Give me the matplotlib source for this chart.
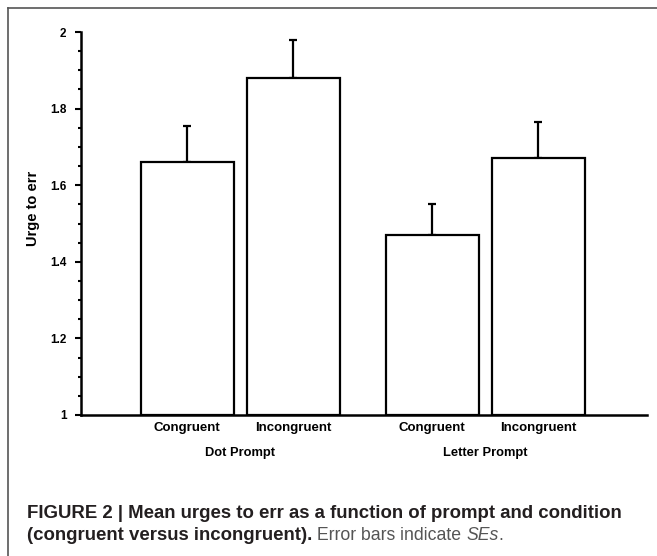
import numpy as np
import matplotlib.pyplot as plt
from matplotlib.lines import Line2D
from matplotlib.ticker import MultipleLocator

# Data
groups = ['Dot Prompt', 'Letter Prompt']
conditions = ['Congruent', 'Incongruent', 'Congruent', 'Incongruent']
means = [1.66, 1.88, 1.47, 1.67]
ses = [0.095, 0.10, 0.08, 0.095]

plt.rcParams['font.family'] = ['Liberation Sans', 'DejaVu Sans']

fig = plt.figure(figsize=(6.57, 5.56), dpi=100)
ax = fig.add_axes([0.1233, 0.2536, 0.862, 0.6888])

# bar positions (two pairs with a wider gap between groups)
pos = np.array([0, 1, 2.31, 3.31])
ax.bar(pos, [m - 1 for m in means], bottom=1, width=0.877,
       color='white', edgecolor='black', linewidth=1.6, zorder=2)
ax.errorbar(pos, means, yerr=[np.zeros(len(ses)), ses], fmt='none',
            ecolor='black', elinewidth=1.6, capsize=3, capthick=1.6, zorder=1)

ax.set_xlim(-1.0, 4.34)
ax.set_ylim(1, 2)
ax.set_xticks(pos)
ax.set_xticklabels(conditions, fontweight='bold', fontsize=9.5)
ax.tick_params(axis='x', length=0, pad=5)

ax.yaxis.set_minor_locator(MultipleLocator(0.05))
ax.set_yticks([1, 1.2, 1.4, 1.6, 1.8, 2])
ax.set_yticklabels(['1', '1.2', '1.4', '1.6', '1.8', '2'], fontweight='bold', fontsize=8.5)
ax.tick_params(axis='y', which='major', length=4.5, width=1.5, pad=6)
ax.tick_params(axis='y', which='minor', length=2.5, width=1.5)

for s in ['top', 'right']:
    ax.spines[s].set_visible(False)
for s in ['left', 'bottom']:
    ax.spines[s].set_linewidth(1.8)

ax.set_ylabel('Urge to err', fontweight='bold', fontsize=10.5)
ax.yaxis.set_label_coords(-0.072, 0.54)

# group labels
for g, c in zip(groups, [pos[0:2].mean(), pos[2:4].mean()]):
    ax.text(c, -0.098, g, transform=ax.get_xaxis_transform(), ha='center', va='center',
            fontweight='bold', fontsize=9.3)

# frame lines
fig.add_artist(Line2D([8 / 657, 1], [1 - 8 / 556, 1 - 8 / 556], color='#555555', linewidth=1.2))
fig.add_artist(Line2D([8 / 657, 8 / 657], [0, 1 - 8 / 556], color='#555555', linewidth=1.2))

# caption
cap_font = ['Liberation Sans Narrow', 'Liberation Sans', 'DejaVu Sans']
fig.text(27 / 657, 1 - 513 / 556, 'FIGURE 2 | Mean urges to err as a function of prompt and condition',
         fontsize=13.4, fontweight='bold', color='#231f20', va='center', family=cap_font)
t1 = fig.text(27 / 657, 1 - 535 / 556, '(congruent versus incongruent).',
              fontsize=13.4, fontweight='bold', color='#231f20', va='center', family=cap_font)
a2 = ax.annotate(' Error bars indicate ', xy=(1, 0), xycoords=t1, va='bottom', ha='left',
                 fontsize=12.7, color='#555555', family=cap_font, annotation_clip=False)
a3 = ax.annotate('SEs', xy=(1, 0), xycoords=a2, va='bottom', ha='left',
                 fontsize=12.7, color='#555555', style='italic', family=cap_font, annotation_clip=False)
ax.annotate('.', xy=(1, 0), xycoords=a3, va='bottom', ha='left',
            fontsize=12.7, color='#555555', family=cap_font, annotation_clip=False)

fig.savefig('out.png', dpi=100)
